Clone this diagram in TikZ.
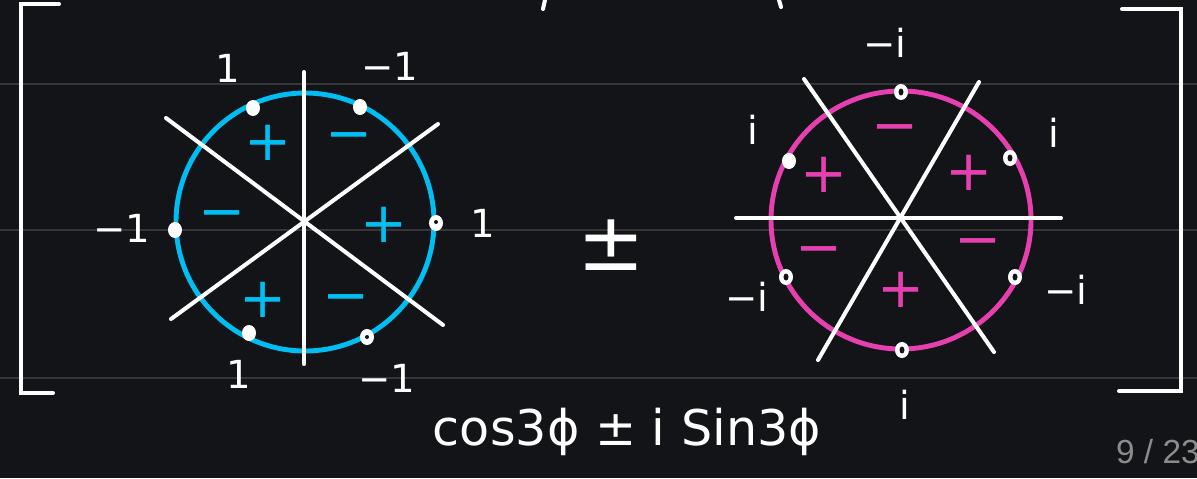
\documentclass[tikz,border=0pt]{standalone}
\usepackage{fontspec}
\setmainfont{DejaVu Sans}
\newfontfamily\pagefont{Liberation Sans}
\usetikzlibrary{positioning}
\definecolor{boardbg}{HTML}{131417}
\definecolor{ruleline}{HTML}{34363A}
\definecolor{phaseblue}{HTML}{00BDF2}
\definecolor{phasepink}{HTML}{E640B0}
\definecolor{pagegray}{HTML}{8C8C8C}
\tikzset{
  chalk/.style={white,line width=2.3pt,line cap=round},
  ring/.style={line width=2.8pt},
  lbl/.style={text=white,font=\fontsize{22}{26}\selectfont,inner sep=0pt},
  sgn/.style={font=\fontsize{32}{36}\selectfont,inner sep=0pt}
}
\begin{document}
\begin{tikzpicture}[x=0.02cm,y=-0.02cm]
\fill[boardbg] (0,0) rectangle (1197,478);
\useasboundingbox (0,0) rectangle (1197,478);
% ruled lines
\foreach \yy in {84,230,378}
  \draw[ruleline,line width=1pt] (0,\yy) -- (1197,\yy);
% brackets and stray strokes
\draw[chalk] (59,4) -- (21,4) -- (21,393) -- (53,393);
\draw[chalk] (1122,9) -- (1181,9) -- (1181,391) -- (1119,391);
\draw[chalk] (545,0) -- (543,9);
\draw[chalk] (779,0) -- (781,7);

% left circle (cos)
\coordinate (lc) at (305,222);
\draw[phaseblue,ring] (lc) circle[radius=129];
\draw[chalk] (304,72) -- (304,364);
\draw[chalk] (166,118) -- (443,325);
\draw[chalk] (171,319) -- (438,124);
\foreach \px/\py in {253/108,360/107,175/230,436/223,249/333,367/337}
  \fill[white] (\px,\py) ellipse[x radius=7,y radius=8];
\fill[boardbg] (436,222) circle[radius=2];
\fill[boardbg] (367,337) circle[radius=2];
\node[sgn,text=phaseblue] (lsA) at (268,143) {+};
\node[sgn,text=phaseblue] (lsB) at (349,143) {−};
\node[sgn,text=phaseblue] (lsC) at (222,221) {−};
\node[sgn,text=phaseblue] (lsD) at (384,225) {+};
\node[sgn,text=phaseblue] (lsE) at (263,300) {+};
\node[sgn,text=phaseblue] (lsF) at (346,305) {−};
\node[lbl] (llA) at (228,68) {1};
\node[lbl] (llB) at (390,66) {−1};
\node[lbl] (llC) at (122,228) {−1};
\node[lbl] (llD) at (483,223) {1};
\node[lbl] (llE) at (239,374) {1};
\node[lbl] (llF) at (387,378) {−1};

% plus-minus
\node[text=white,font=\fontsize{46}{50}\selectfont,inner sep=0pt] (pm) at (611,245) {±};

% right circle (sin)
\coordinate (rc) at (901,220);
\draw[phasepink,ring] (rc) ellipse[x radius=130,y radius=129];
\draw[chalk] (736,218) -- (1061,218);
\draw[chalk] (804,79) -- (994,352);
\draw[chalk] (979,82) -- (818,360);
\foreach \px/\py in {901/92,789/161,1010/158,786/277,1015/277,902/350}
  \fill[white] (\px,\py) ellipse[x radius=7,y radius=8];
\foreach \px/\py in {901/92,1010/158,786/277,1015/277,902/350}
  \fill[boardbg] (\px,\py) ellipse[x radius=2.5,y radius=3.5];
\node[sgn,text=phasepink] (rsA) at (895,135) {−};
\node[sgn,text=phasepink] (rsB) at (824,175) {+};
\node[sgn,text=phasepink] (rsC) at (969,173) {+};
\node[sgn,text=phasepink] (rsD) at (819,257) {−};
\node[sgn,text=phasepink] (rsE) at (978,249) {−};
\node[sgn,text=phasepink] (rsF) at (901,290) {+};
\node[lbl] (rlA) at (885,43) {−i};
\node[lbl] (rlB) at (753,130) {i};
\node[lbl] (rlC) at (1054,133) {i};
\node[lbl] (rlD) at (747,297) {−i};
\node[lbl] (rlE) at (1066,290) {−i};
\node[lbl] (rlF) at (905,405) {i};

% formula and page number
\node[lbl,font=\fontsize{28}{32}\selectfont] (formula) at (627,432) {cos3ϕ ± i Sin3ϕ};
\node[text=pagegray,font=\pagefont\fontsize{19}{22}\selectfont,inner sep=0pt,anchor=east] (pageno) at (1200,452) {9 / 23};
\end{tikzpicture}
\end{document}
